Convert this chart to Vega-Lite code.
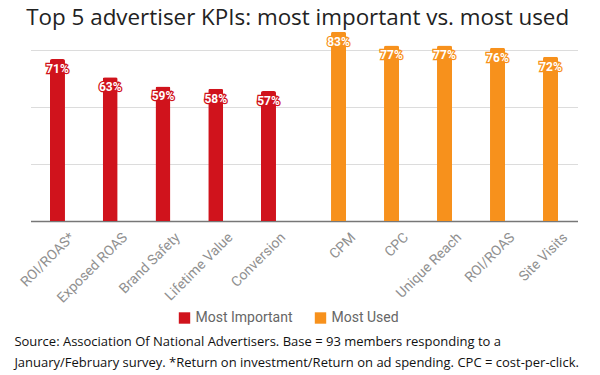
{
  "$schema": "https://vega.github.io/schema/vega-lite/v6.json",
  "padding": {"left": 13.5, "top": 7, "right": 5, "bottom": 0},
  "background": "white",
  "title": {
    "text": ["Source: Association Of National Advertisers. Base = 93 members responding to a", "January/February survey. *Return on investment/Return on ad spending. CPC = cost-per-click."],
    "orient": "bottom", "anchor": "start", "frame": "bounds", "dx": -3.5,
    "font": "Open Sans", "fontSize": 13, "fontWeight": "normal", "color": "#111", "lineHeight": 21, "offset": 11
  },
  "datasets": {
    "kpis": [
      {"kpi": "ROI/ROAS*", "group": "Most Important", "value": 0.71},
      {"kpi": "Exposed ROAS", "group": "Most Important", "value": 0.63},
      {"kpi": "Brand Safety", "group": "Most Important", "value": 0.59},
      {"kpi": "Lifetime Value", "group": "Most Important", "value": 0.58},
      {"kpi": "Conversion", "group": "Most Important", "value": 0.57},
      {"kpi": "CPM", "group": "Most Used", "value": 0.83},
      {"kpi": "CPC", "group": "Most Used", "value": 0.77},
      {"kpi": "Unique Reach", "group": "Most Used", "value": 0.77},
      {"kpi": "ROI/ROAS", "group": "Most Used", "value": 0.76},
      {"kpi": "Site Visits", "group": "Most Used", "value": 0.72}
    ]
  },
  "vconcat": [
    {
      "title": {"text": "Top 5 advertiser KPIs: most important vs. most used", "font": "Open Sans", "fontSize": 22.4, "fontWeight": "normal", "color": "#222", "anchor": "middle", "offset": 2},
      "spacing": 0,
      "hconcat": [
        {
          "width": 273, "height": 171,
          "data": {"name": "kpis"},
          "transform": [{"filter": "datum.group === 'Most Important'"}],
          "encoding": {
            "x": {"field": "kpi", "type": "nominal", "sort": null, "title": null,
              "scale": {"paddingInner": 0.7, "paddingOuter": 0.4375, "align": 0.413},
              "axis": {"labelAngle": -45, "labelAlign": "right", "labelBaseline": "top", "labelOffset": 10, "labelFont": "Roboto", "labelFontSize": 14, "labelColor": "#909090", "ticks": false, "domainColor": "#777", "domainWidth": 1.5, "labelPadding": 9}},
            "y": {"field": "value", "type": "quantitative", "title": null,
              "scale": {"domain": [0, 0.75], "nice": false},
              "axis": {"values": [0, 0.25, 0.5, 0.75], "labels": false, "ticks": false, "domain": false, "gridColor": "#dcdcdc", "gridWidth": 1}}
          },
          "layer": [
            {"mark": {"type": "bar", "width": 15, "cornerRadiusTopLeft": 2, "cornerRadiusTopRight": 2, "clip": false},
             "encoding": {"color": {"field": "group", "type": "nominal", "title": null,
               "scale": {"domain": ["Most Important", "Most Used"], "range": ["#d0131c", "#f7911c"]},
               "legend": {"orient": "none", "direction": "horizontal", "legendX": 147, "legendY": 261}}}},
            {"mark": {"type": "text", "font": "Roboto", "fontSize": 12, "fontWeight": "bold", "dy": 10, "baseline": "middle", "stroke": "#d0131c", "strokeWidth": 2.5, "fill": "#d0131c"},
             "encoding": {"text": {"field": "value", "type": "quantitative", "format": ".0%"}}},
            {"mark": {"type": "text", "font": "Roboto", "fontSize": 12, "fontWeight": "bold", "dy": 10, "baseline": "middle", "fill": "white"},
             "encoding": {"text": {"field": "value", "type": "quantitative", "format": ".0%"}}}
          ]
        },
        {
          "width": 274, "height": 171,
          "data": {"name": "kpis"},
          "transform": [{"filter": "datum.group === 'Most Used'"}],
          "encoding": {
            "x": {"field": "kpi", "type": "nominal", "sort": null, "title": null,
              "scale": {"paddingInner": 0.7, "paddingOuter": 0.435, "align": 0.587},
              "axis": {"labelAngle": -45, "labelAlign": "right", "labelBaseline": "top", "labelOffset": 10, "labelFont": "Roboto", "labelFontSize": 14, "labelColor": "#909090", "ticks": false, "domainColor": "#777", "domainWidth": 1.5, "labelPadding": 9}},
            "y": {"field": "value", "type": "quantitative", "title": null,
              "scale": {"domain": [0, 0.75], "nice": false},
              "axis": {"values": [0, 0.25, 0.5, 0.75], "labels": false, "ticks": false, "domain": false, "gridColor": "#dcdcdc", "gridWidth": 1}}
          },
          "layer": [
            {"mark": {"type": "bar", "width": 15, "cornerRadiusTopLeft": 2, "cornerRadiusTopRight": 2, "clip": false},
             "encoding": {"color": {"field": "group", "type": "nominal", "title": null,
               "scale": {"domain": ["Most Important", "Most Used"], "range": ["#d0131c", "#f7911c"]}}}},
            {"mark": {"type": "text", "font": "Roboto", "fontSize": 12, "fontWeight": "bold", "dy": 10, "baseline": "middle", "stroke": "#f7911c", "strokeWidth": 2.5, "fill": "#f7911c"},
             "encoding": {"text": {"field": "value", "type": "quantitative", "format": ".0%"}}},
            {"mark": {"type": "text", "font": "Roboto", "fontSize": 12, "fontWeight": "bold", "dy": 10, "baseline": "middle", "fill": "white"},
             "encoding": {"text": {"field": "value", "type": "quantitative", "format": ".0%"}}}
          ]
        }
      ]
    }
  ],
  "config": {
    "view": {"stroke": null},
    "legend": {"symbolType": "square", "symbolSize": 130, "symbolStrokeWidth": 0, "symbolOpacity": 1,
      "labelFont": "Roboto", "labelFontSize": 14, "labelColor": "#666", "columnPadding": 20, "title": null}
  }
}
